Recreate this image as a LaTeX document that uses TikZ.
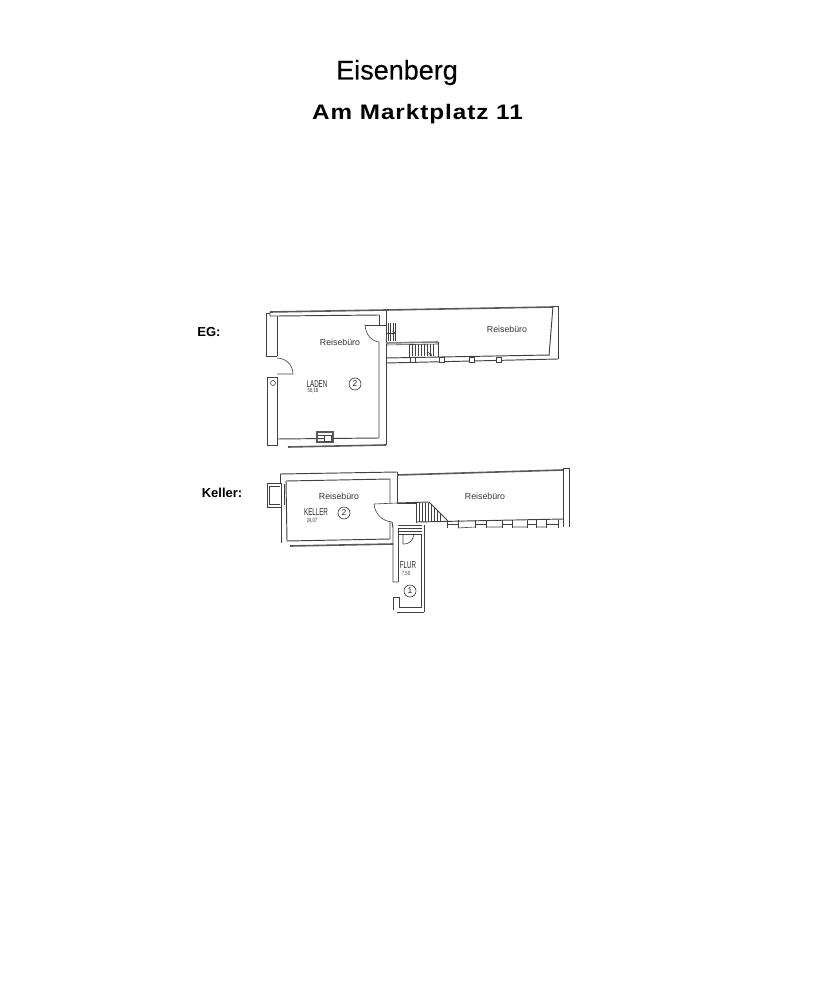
\documentclass[tikz,border=0pt]{standalone}
\usepackage{fontspec}
\setmainfont{Liberation Sans}
\begin{document}
\begin{tikzpicture}[x=1pt,y=-1pt,
  wall/.style={draw=black!75,line width=0.95pt},
  thick wall/.style={draw=black!65,line width=1.6pt},
  thin wall/.style={draw=black!75,line width=0.6pt},
  title/.style={inner sep=0pt,font=\fontsize{27}{29}\selectfont},
  subtitle/.style={inner sep=0pt,xscale=1.155,font=\fontsize{21}{24}\bfseries\selectfont},
  level/.style={inner sep=0pt,font=\fontsize{13}{14}\bfseries\selectfont},
  room/.style={inner sep=0pt,text=black!80,font=\fontsize{8.8}{10}\selectfont},
  roomcap/.style={inner sep=0pt,text=black!85,xscale=.62,font=\fontsize{10}{11}\selectfont},
  area/.style={inner sep=0pt,text=black!80,xscale=.7,font=\fontsize{6}{7}\selectfont},
  unitmark/.style={circle,draw=black!80,line width=.6pt,inner sep=0pt,minimum size=12pt,text=black!85,font=\fontsize{8.5}{9}\selectfont}]
\useasboundingbox (0,0) rectangle (834,1000);
% titles
\node[title] (t1) at (397,72.5) {\addfontfeature{FakeBold=0.4}Eisenberg};
\node[subtitle] (t2) at (417.5,114.5) {\addfontfeature{LetterSpace=4}Am Marktplatz 11};
\node[level] (eg) at (209,332.5) {EG:};
\node[level] (ke) at (222,492.5) {Keller:};

% ===== EG left room =====
\draw[thick wall] (270,312) -- (386,310);
\draw[wall] (270,312) -- (270,316) -- (277,316) -- (379,315);
\draw[wall] (270,313) -- (266,313) -- (266,356) -- (277,356);
\draw[wall] (277,316) -- (277,356);
\draw[wall] (277,377) -- (267,377) -- (267,445) -- (277,445) -- (277,377);
\draw[wall] (379,315) -- (379,325);
\draw[wall] (379,342) -- (379,438) -- (277,439);
\draw[wall] (386,310) -- (386,445);
\draw[thick wall] (288,447) -- (386,445);
% left door
\draw[thin wall] (277,358) arc[start angle=-90,end angle=0,radius=16] -- (277,374);
\draw[thin wall] (273,383) circle[radius=2.5];
% right door
\draw[thin wall] (365,325) -- (386,325);
\draw[thin wall] (365,325) .. controls (366,335) and (371,341) .. (379,342);

% kitchen unit
\draw[thick wall] (317,432) rectangle (333,442);
\draw[wall,fill=white] (324,435) rectangle (331,441);
\draw[thin wall] (318,435) -- (324,435) (318,438) -- (324,438);

% ===== EG right room =====
\draw[thick wall] (386,310) -- (553,307);
\draw[wall] (553,306) -- (558,306) -- (558,359);
\draw[wall] (553,306) -- (549,356);
\draw[wall] (386,358) -- (549,355);
\draw[wall] (386,363) -- (558,359);
\foreach \wx in {413,442,472,499}{
  \draw[thin wall,fill=white] (\wx-2.5,357.5) rectangle (\wx+2.5,362.5);
}
% upper stair
\foreach \sx in {388,390.5,393,395.5}{
  \draw[thin wall] (\sx,323) -- (\sx,341);
}
\draw[thin wall,-stealth] (387,333) -- (396,333);
\draw[thick wall,draw=black!50] (386,343) -- (438,342);
\draw[thin wall] (386,345) -- (438,344);
\draw[thin wall] (438,342) -- (438,357);
% lower stair
\draw[thin wall] (409,344) -- (409,357);
\foreach \sx in {412,415,418,421,424,427,430,433}{
  \draw[thin wall] (\sx,344) -- (\sx,356);
}
\draw[thin wall,-stealth] (428,352) -- (432,356);

% ===== Keller left room =====
\draw[wall] (280,474) -- (397,472);
\draw[wall] (280,474) -- (280,483) -- (267,483) -- (267,507) -- (281,507);
\draw[thin wall] (280,486) -- (269,486) -- (269,504) -- (280,504);
\draw[wall] (281,483) -- (281,507);
\draw[thin wall] (284,484) -- (284,505);
\draw[wall] (286,481) -- (390,479) -- (390,503);
\draw[wall] (286,481) -- (287,541) -- (390,539) -- (390,522);
\draw[wall] (281,507) -- (281,543);
\draw[thick wall] (290,546) -- (393,544);
\draw[wall] (397,472) -- (397,503);
% door
\draw[thin wall] (374,504) -- (397,503);
\draw[thin wall] (374,504) .. controls (375,514) and (382,521) .. (392,522);
\draw[wall] (392,522) -- (393,528) -- (393,582) -- (398,582);

% ===== Flur =====
\draw[wall] (398,528) -- (398,582);
\draw[wall] (397,503) -- (416,503);
\draw[wall] (398,525) -- (422,525);
\draw[thin wall] (398,528) -- (422,528);
\draw[thin wall] (398,531) -- (422,531);
\draw[thin wall] (398,534) -- (421,534);
\draw[thin wall] (403,534) -- (403,544) -- (404,544) .. controls (409,544) and (413,541) .. (414,534);
\draw[wall] (421,534) -- (421,607) -- (399,607) -- (399,597) -- (393,597) -- (393,610);
\draw[wall] (424,525) -- (424,612);
\draw[wall] (397,612) -- (424,612);

% ===== Keller right room =====
\draw[thick wall] (397,475) -- (563,470);
\draw[wall] (563,468) -- (563,527);
\draw[wall] (569,468) -- (569,527);
\draw[wall] (563,468) -- (569,468);
\draw[wall] (397,503) -- (429,502);
\draw[wall] (417,522) -- (563,519);
% stair
\draw[wall] (416,503) -- (416,523);
\draw[wall] (429,502) -- (447,520);
\foreach \sx in {419,422,425,428}{
  \draw[wall] (\sx,503) -- (\sx,522);
}
\draw[thin wall] (431,505) -- (431,521);
\draw[thin wall] (434,508) -- (434,521);
\draw[thin wall] (437,511) -- (437,521);
\draw[thin wall] (440,514) -- (440,521);
% niches
\foreach \xa/\xb in {447/458,475/486,502/512,527/536,546/558}{
  \draw[wall] (\xa,524) -- (\xb,524);
  \draw[thin wall] (\xa,520) -- (\xa,528) (\xb,520) -- (\xb,528);
}
\draw[thin wall] (458,528) -- (475,527) (486,527) -- (502,527) (512,527) -- (527,527) (536,527) -- (546,527);

% ===== labels =====
\node[room] (r1) at (340,342) {Reisebüro};
\node[room] (r2) at (507,329) {Reisebüro};
\node[room] (r3) at (339,496) {Reisebüro};
\node[room] (r4) at (485,496) {Reisebüro};
\node[roomcap] (l1) at (317,384) {LADEN};
\node[area] (a1) at (313,391) {56,18};
\node[unitmark] (c1) at (355,384) {2};
\node[roomcap] (l2) at (316,512) {KELLER};
\node[area] (a2) at (312,521) {24,07};
\node[unitmark] (c2) at (344,513) {2};
\node[roomcap] (l3) at (408,565) {FLUR};
\node[area] (a3) at (406,574) {7,50};
\node[unitmark] (c3) at (410,591) {1};
\end{tikzpicture}
\end{document}
